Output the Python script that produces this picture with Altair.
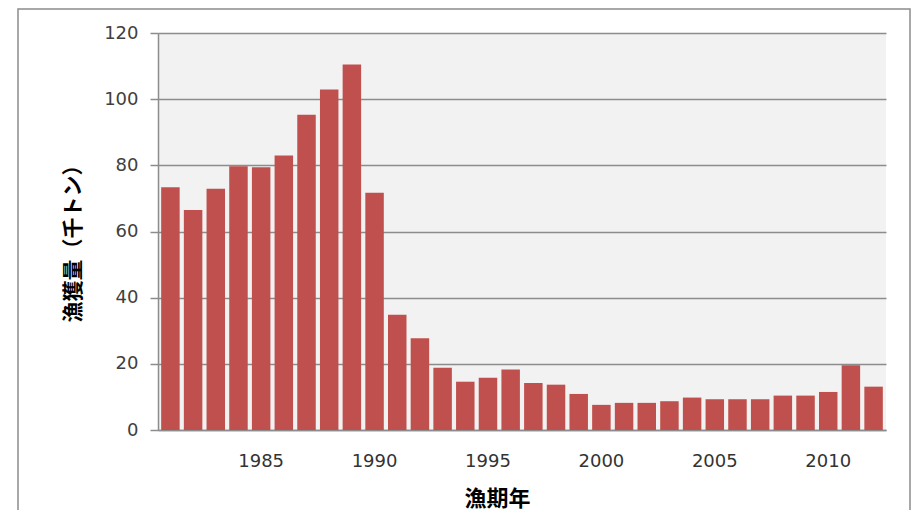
import altair as alt
import pandas as pd

years = list(range(1981, 2013))
catch = [73.4, 66.5, 72.9, 79.7, 79.4, 83.0, 95.3, 102.9, 110.5, 71.7,
         34.8, 27.7, 18.8, 14.6, 15.8, 18.3, 14.2, 13.7, 10.9, 7.6,
         8.2, 8.2, 8.7, 9.8, 9.3, 9.3, 9.3, 10.4, 10.4, 11.5,
         19.6, 13.1]
label_years = [1985, 1990, 1995, 2000, 2005, 2010]

df = pd.DataFrame({"year": years, "catch": catch})

bars = alt.Chart(df).mark_bar(color="#c0504d").encode(
    x=alt.X("year:O",
            scale=alt.Scale(paddingInner=0.185, paddingOuter=0.14),
            axis=alt.Axis(values=label_years, title="漁期年", labelAngle=0,
                          ticks=False, domain=True, domainColor="#8c8c8c",
                          domainWidth=1.5,
                          labelFont="DejaVu Sans", labelFontSize=18,
                          labelColor="#333333", labelPadding=22,
                          titleFont="Noto Sans CJK JP", titleFontSize=22,
                          titleFontWeight="bold", titleColor="#000000",
                          titleX=339, titleY=68, titleBaseline="middle")),
    y=alt.Y("catch:Q",
            scale=alt.Scale(domain=[0, 120], nice=False),
            axis=alt.Axis(values=[0, 20, 40, 60, 80, 100, 120],
                          title="漁獲量（千トン）",
                          grid=True, gridColor="#8c8c8c", gridWidth=1.5,
                          domain=True, domainColor="#8c8c8c", domainWidth=1.5,
                          ticks=True, tickColor="#8c8c8c", tickSize=8, tickWidth=1.5,
                          labelFont="DejaVu Sans", labelFontSize=18,
                          labelColor="#404040", labelPadding=12,
                          titleFont="Noto Sans CJK JP", titleFontSize=21,
                          titleFontWeight="bold", titleColor="#000000",
                          titleX=-85, titleY=205, titleBaseline="middle")),
)

frame = alt.Chart(pd.DataFrame({"a": [0]})).mark_rect(
    fill="transparent", stroke="#8c8c8c", strokeWidth=1.5
).encode(x=alt.value(-140), x2=alt.value(752), y=alt.value(-24), y2=alt.value(520))

chart = alt.layer(frame, bars).properties(
    width=728, height=397,
    autosize=alt.AutoSizeParams(type="none"),
    padding={"left": 150, "top": 25, "right": 25, "bottom": 80},
    background="white",
).configure_view(fill="#f2f2f2", stroke=None)

chart.save("out.html", embed_options={"renderer": "svg", "actions": False})
